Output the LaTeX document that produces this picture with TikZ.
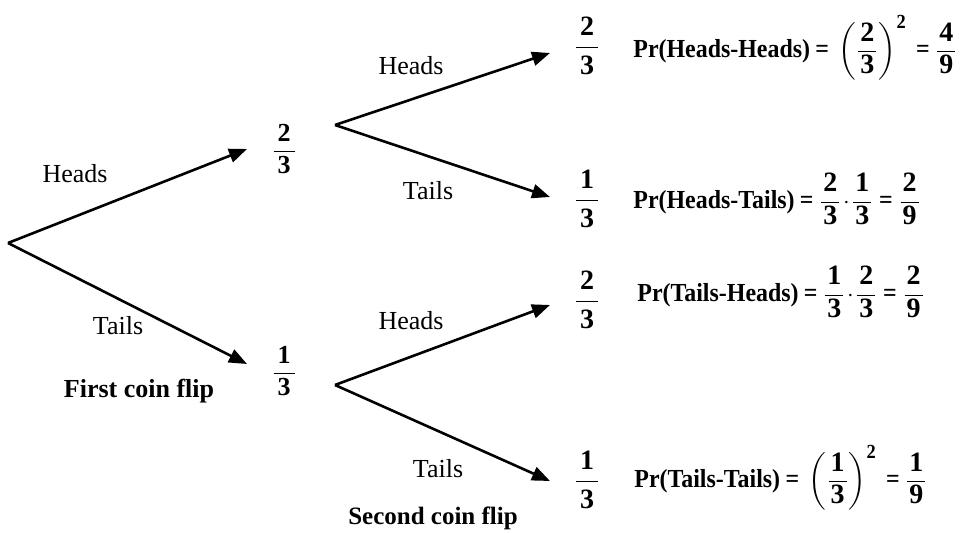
\documentclass[tikz,border=0pt]{standalone}
\usepackage{fontspec}
\setmainfont{Liberation Serif}
\newfontfamily\eqfont{Liberation Serif}[FakeStretch=0.92]
\usepackage{amsmath}
\usetikzlibrary{arrows.meta}

% fractions with text digits, a tight equals sign, a small square
\newcommand{\fr}[2]{\dfrac{\hbox{\kern2pt#1\kern2pt}}{\hbox{\kern2pt#2\kern2pt}}}
\newcommand{\efr}[2]{\dfrac{\hbox{\fontsize{14}{16}\rmfamily\bfseries\kern1pt#1\kern1pt}}%
  {\hbox{\fontsize{14}{16}\rmfamily\bfseries\kern1pt#2\kern1pt}}}
\newcommand{\eq}{\mkern4mu\hbox{=}\mkern4mu}
\newcommand{\sq}{^{\hbox{\fontsize{10}{11}\selectfont 2}}}

\begin{document}
\begin{tikzpicture}[x=0.5pt,y=-0.5pt,
  branch/.style={line width=1.3pt,-{Triangle[length=9pt,width=7pt]}},
  lbl/.style={anchor=base,inner sep=0pt,font=\fontsize{13}{15}\selectfont},
  flip/.style={anchor=base,inner sep=0pt,font=\fontsize{13}{15}\selectfont\bfseries},
  prob/.style={inner sep=0pt,font=\fontsize{13}{15}\selectfont\bfseries},
  eqn/.style={anchor=west,inner sep=0pt,font=\fontsize{13}{15}\eqfont\bfseries}]
  \useasboundingbox (0,0) rectangle (969,533);

  % first flip
  \coordinate (root) at (8,243);
  \coordinate (H) at (247,149);
  \coordinate (T) at (247,364);
  \draw[branch] (root) -- (H);
  \draw[branch] (root) -- (T);
  \node[prob] (pH) at (284,149) {$\fr{2}{3}$};
  \node[prob] (pT) at (284,371) {$\fr{1}{3}$};
  \node[lbl] (lH) at (75,183)  {Heads};
  \node[lbl] (lT) at (118,335) {Tails};
  \node[flip] (first) at (139,398) {First coin flip};

  % second flip, after heads
  \coordinate (hs) at (335,125);
  \coordinate (HH) at (550,53);
  \coordinate (HT) at (550,197);
  \draw[branch] (hs) -- (HH);
  \draw[branch] (hs) -- (HT);
  \node[lbl] (lHH) at (411,75)  {Heads};
  \node[lbl] (lHT) at (428,200) {Tails};

  % second flip, after tails
  \coordinate (ts) at (335,385);
  \coordinate (TH) at (550,305);
  \coordinate (TT) at (550,481);
  \draw[branch] (ts) -- (TH);
  \draw[branch] (ts) -- (TT);
  \node[lbl] (lTH) at (411,330) {Heads};
  \node[lbl] (lTT) at (438,478) {Tails};
  \node[flip,font=\fontsize{12.5}{15}\selectfont\bfseries] (second) at (433,525) {Second coin flip};

  % outcomes
  \begin{scope}[prob/.append style={font=\fontsize{14}{16}\selectfont\bfseries}]
    \node[prob] (pHH) at (587,46)  {$\fr{2}{3}$};
    \node[prob] (pHT) at (587,199) {$\fr{1}{3}$};
    \node[prob] (pTH) at (587,300) {$\fr{2}{3}$};
    \node[prob] (pTT) at (587,480) {$\fr{1}{3}$};
  \end{scope}
  \node[eqn] (eHH) at (633,48)  {Pr(Heads-Heads)$\eq\left(\efr{2}{3}\right)\sq\eq\efr{4}{9}$};
  \node[eqn] (eHT) at (633,199) {Pr(Heads-Tails)$\eq\efr{2}{3}\!\cdot\!\efr{1}{3}\eq\efr{2}{9}$};
  \node[eqn] (eTH) at (637,292) {Pr(Tails-Heads)$\eq\efr{1}{3}\!\cdot\!\efr{2}{3}\eq\efr{2}{9}$};
  \node[eqn] (eTT) at (634,478) {Pr(Tails-Tails)$\eq\left(\efr{1}{3}\right)\sq\eq\efr{1}{9}$};
\end{tikzpicture}
\end{document}
